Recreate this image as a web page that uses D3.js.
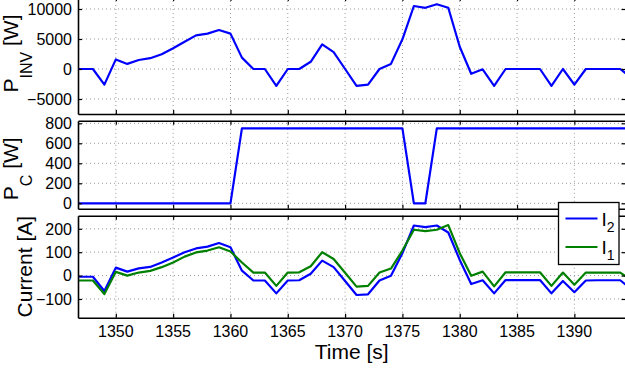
<!DOCTYPE html>
<html>
<head>
<meta charset="utf-8">
<script src="https://cdn.jsdelivr.net/npm/d3@7"></script>
<style>
    body { margin: 0; background: #fff; }
    svg { display: block; font-family: "Liberation Sans", Arial, Helvetica, sans-serif; }
    .grid line { stroke: #999; stroke-dasharray: 1,3; stroke-width: 1; }
</style>
</head>
<body>
<svg id="chart"></svg>
<script>
// time in seconds, one sample per second
const time = d3.range(1346, 1396);

const p_inv = [0, 0, 0, -2600, 1600, 850, 1500, 1800, 2450, 3450,
    4550, 5600, 5900, 6500, 5900, 1900, 0, 0, -2800, 0,
    0, 1200, 4100, 2800, 0, -2800, -2600, 0, 850, 4950,
    10500, 10200, 10800, 10200, 3700, -800, -50, -2800, 0, 0,
    0, 0, -2800, 0, -2600, 0, 0, 0, 0, -1500];

const p_c = [0, 0, 0, 0, 0, 0, 0, 0, 0, 0,
    0, 0, 0, 0, 0, 750, 750, 750, 750, 750,
    750, 750, 750, 750, 750, 750, 750, 750, 750, 750,
    0, 0, 750, 750, 750, 750, 750, 750, 750, 750,
    750, 750, 750, 750, 750, 750, 750, 750, 750, 750];

const i2 = [-5, -5, -5, -66, 34, 17, 31, 37, 56, 77,
    100, 116, 124, 139, 121, 21, -21, -21, -76, -21,
    -20, 8, 64, 36, -23, -83, -80, -21, -1, 96,
    214, 207, 214, 184, 67, -36, -20, -76, -19, -19,
    -19, -19, -76, -23, -71, -21, -20, -20, -20, -60];

const i1 = [-21, -21, -21, -79, 16, 0, 13, 20, 36, 56,
    81, 99, 107, 121, 103, 56, 13, 13, -44, 13,
    14, 40, 100, 71, 12, -47, -44, 13, 30, 107,
    196, 190, 196, 216, 96, -1, 17, -46, 14, 14,
    14, 14, -44, 13, -39, 13, 13, 13, 13, -20];

const x_ticks = [1350, 1355, 1360, 1365, 1370, 1375, 1380, 1385, 1390];
const p_inv_ticks = [-5000, 0, 5000, 10000];
const p_c_ticks = [0, 200, 400, 600, 800];
const current_ticks = [-100, 0, 100, 200];

const width = 625, height = 372;
const left = 78, right = 625.5;
const tick_size = 4;

const svg = d3.select('#chart')
    .attr('width', width)
    .attr('height', height);

const xscale = d3.scaleLinear()
    .domain([1346.7, 1394.46])
    .range([left, right]);

const panels = [
    { top: -3, bottom: 114, domain: [-7500, 12000], ticks: p_inv_ticks,
      series: [{ values: p_inv, color: '#0000ff' }], label: ['P', 'INV', ' [W]'] },
    { top: 120.8, bottom: 208.8, domain: [-55, 825], ticks: p_c_ticks,
      series: [{ values: p_c, color: '#0000ff' }], label: ['P', 'C', ' [W]'] },
    { top: 215.7, bottom: 317.7, domain: [-180, 256], ticks: current_ticks,
      series: [{ values: i2, color: '#0000ff' }, { values: i1, color: '#008000' }], label: ['Current [A]'] }
];

panels.forEach((p, k) => {
    const yscale = d3.scaleLinear().domain(p.domain).range([p.bottom, p.top]);
    const g = svg.append('g');
    const clip_id = 'clip' + k;

    svg.append('clipPath').attr('id', clip_id)
        .append('rect')
        .attr('x', left).attr('y', p.top)
        .attr('width', right - left).attr('height', p.bottom - p.top);

    // dotted grid
    const grid = g.append('g').attr('class', 'grid');
    grid.selectAll('.vx').data(x_ticks).join('line')
        .attr('x1', d => xscale(d)).attr('x2', d => xscale(d))
        .attr('y1', p.top).attr('y2', p.bottom);
    grid.selectAll('.hy').data(p.ticks).join('line')
        .attr('y1', d => yscale(d)).attr('y2', d => yscale(d))
        .attr('x1', left).attr('x2', right);

    // data lines
    const line = d3.line()
        .x((d, i) => xscale(time[i]))
        .y(d => yscale(d));
    g.append('g').attr('clip-path', `url(#${clip_id})`)
        .selectAll('path').data(p.series).join('path')
        .attr('d', s => line(s.values))
        .attr('fill', 'none')
        .attr('stroke', s => s.color)
        .attr('stroke-width', 2.2)
        .attr('stroke-linejoin', 'round');

    // axes, ticks pointing inward like matlab
    g.append('g')
        .attr('transform', `translate(0, ${p.bottom})`)
        .call(d3.axisTop(xscale).tickValues(x_ticks).tickSize(tick_size).tickSizeOuter(0).tickFormat(''));
    g.append('g')
        .attr('transform', `translate(0, ${p.top})`)
        .call(d3.axisBottom(xscale).tickValues(x_ticks).tickSize(tick_size).tickSizeOuter(0).tickFormat(''));
    g.append('g')
        .attr('transform', `translate(${left}, 0)`)
        .call(d3.axisRight(yscale).tickValues(p.ticks).tickSize(tick_size).tickSizeOuter(0).tickFormat(''));
    g.append('g')
        .attr('transform', `translate(${right}, 0)`)
        .call(d3.axisLeft(yscale).tickValues(p.ticks).tickSize(tick_size).tickSizeOuter(0).tickFormat(''));
    g.selectAll('.domain').attr('stroke', '#000').attr('stroke-width', 1.6);
    g.selectAll('.tick line').attr('stroke', '#000').attr('stroke-width', 1.2);

    // y tick labels
    g.selectAll('.ylab').data(p.ticks).join('text')
        .attr('x', left - 6)
        .attr('y', d => yscale(d))
        .attr('dy', '0.36em')
        .attr('text-anchor', 'end')
        .style('font-size', '16px')
        .text(d => d3.format('d')(d).replace('-', '\u2212'));

    // x tick labels only on the last panel
    if (k === panels.length - 1) {
        g.selectAll('.xlab').data(x_ticks).join('text')
            .attr('x', d => xscale(d))
            .attr('y', p.bottom + 19)
            .attr('text-anchor', 'middle')
            .style('font-size', '16px')
            .text(d => d);
    }

    // y label, with subscript where needed
    const cy = (p.top + p.bottom) / 2 + (k === 0 ? -2 : k === 1 ? 4 : 0);
    const ylab = svg.append('text')
        .attr('transform', `translate(${k === 2 ? 32 : 18}, ${cy}) rotate(-90)`)
        .attr('text-anchor', 'middle')
        .style('font-size', '21px');
    if (p.label.length === 1) {
        ylab.text(p.label[0]);
    } else {
        ylab.append('tspan').text(p.label[0]);
        ylab.append('tspan').attr('dy', 14).style('font-size', '16px').text(p.label[1]);
        ylab.append('tspan').attr('dy', -14).text(p.label[2]);
    }
});

// x axis title
svg.append('text')
    .attr('x', (left + right) / 2)
    .attr('y', 359)
    .attr('text-anchor', 'middle')
    .style('font-size', '21px')
    .text('Time [s]');

// legend
const legend_items = [
    { name: 'I', sub: '2', color: '#0000ff' },
    { name: 'I', sub: '1', color: '#008000' }
];
const legend = svg.append('g').attr('transform', 'translate(558.5, 202.5)');
legend.append('rect')
    .attr('width', 60.5).attr('height', 62)
    .attr('fill', '#fff').attr('stroke', '#000').attr('stroke-width', 1.3);
const item = legend.selectAll('.item').data(legend_items).join('g')
    .attr('transform', (d, i) => `translate(0, ${16 + i * 28.5})`);
item.append('line')
    .attr('x1', 7).attr('x2', 39)
    .attr('stroke', d => d.color).attr('stroke-width', 2.2);
const lt = item.append('text')
    .attr('x', 43).attr('y', 7)
    .style('font-size', '19px');
lt.append('tspan').text(d => d.name);
lt.append('tspan').attr('dy', 6).style('font-size', '14px').text(d => d.sub);
</script>
</body>
</html>
